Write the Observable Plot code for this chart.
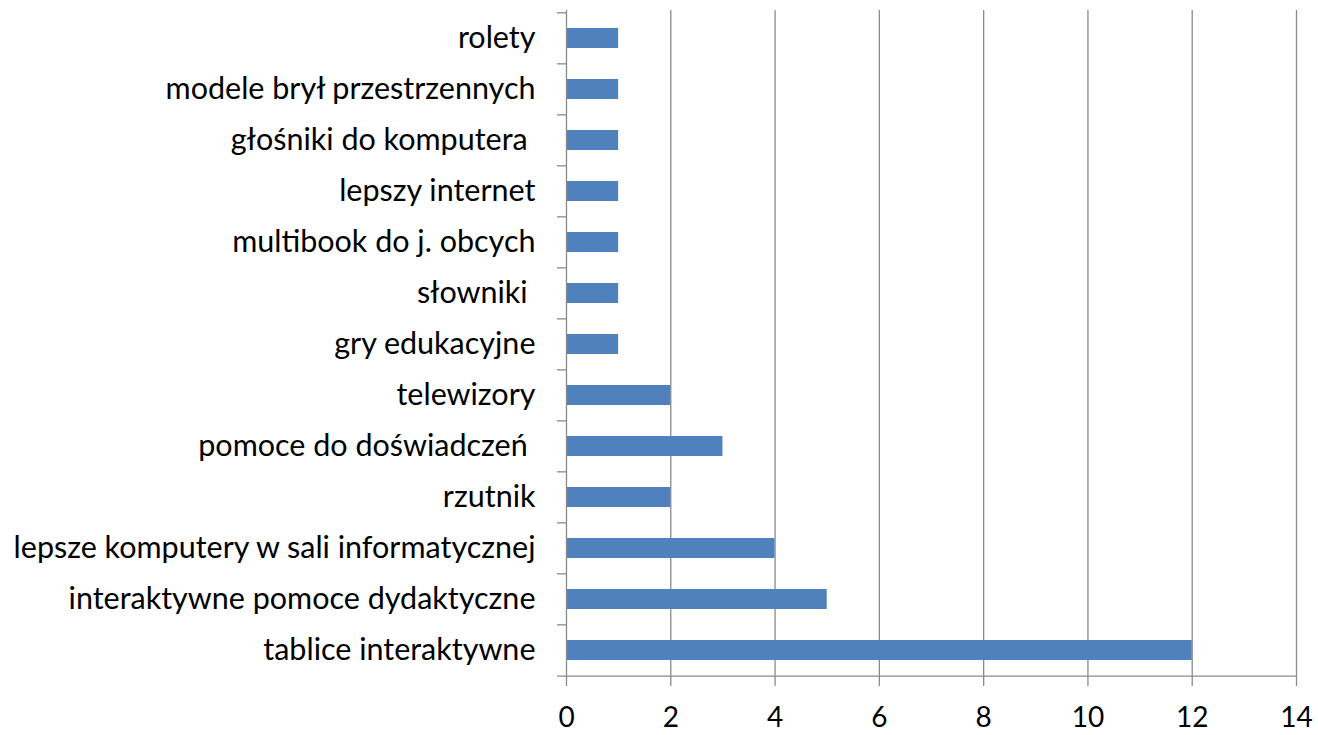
<!DOCTYPE html>
<html>
<head>
<meta charset="utf-8">
<script src="https://cdn.jsdelivr.net/npm/d3@7"></script>
<script src="https://cdn.jsdelivr.net/npm/@observablehq/plot@0.6"></script>
<style>
  html, body { margin: 0; padding: 0; background: #fff; }
  svg { display: block; }
</style>
</head>
<body>
<div id="chart"></div>
<script>
const categories = [
  "rolety",
  "modele brył przestrzennych",
  "głośniki do komputera\u00A0",
  "lepszy internet",
  "multibook do j. obcych",
  "słowniki\u00A0",
  "gry edukacyjne",
  "telewizory",
  "pomoce do doświadczeń\u00A0",
  "rzutnik",
  "lepsze komputery w sali informatycznej",
  "interaktywne pomoce dydaktyczne",
  "tablice interaktywne"
];
const values = [1, 1, 1, 1, 1, 1, 1, 2, 3, 2, 4, 5, 12];
const xTicks = [0, 2, 4, 6, 8, 10, 12, 14];

const data = categories.map((c, i) => ({category: c, value: values[i]}));

const W = 1318, H = 735;
const mTop = 10, mBottom = 58, mLeft = 566, mRight = 22;
const step = (H - mTop - mBottom) / categories.length;
const grey = "#8a8a8a";
const font = "Lato, 'Open Sans', sans-serif";

const chart = Plot.plot({
  width: W,
  height: H,
  marginTop: mTop,
  marginBottom: mBottom,
  marginLeft: mLeft,
  marginRight: mRight,
  style: {fontFamily: font, fontSize: "30px", color: "#000", background: "#fff"},
  x: {domain: [0, 14], ticks: xTicks},
  y: {domain: categories, paddingInner: 0.61, paddingOuter: 0.305},
  marks: [
    Plot.ruleX(xTicks.filter(d => d > 0), {stroke: grey, strokeWidth: 1.3}),
    Plot.barX(data, {y: "category", x: "value", fill: "#4F81BD"}),
    Plot.ruleX([0], {stroke: grey, strokeWidth: 1.3}),
    Plot.ruleY(categories, {y: d => d, x1: 0, x2: 0, insetLeft: -9, dy: -step / 2, stroke: grey, strokeWidth: 1.3}),
    Plot.ruleY(categories.slice(-1), {y: d => d, x1: 0, x2: 14, insetLeft: -9, dy: step / 2, stroke: grey, strokeWidth: 1.3}),
    Plot.axisY({tickSize: 0, tickPadding: 31, fontSize: 30.5, label: null, fill: "#000"}),
    Plot.axisX({ticks: xTicks, tickSize: 9, tickPadding: 21, fontSize: 28, label: null, stroke: grey, strokeWidth: 1.3, fill: "#000"})
  ]
});
document.getElementById("chart").appendChild(chart);
</script>
</body>
</html>
